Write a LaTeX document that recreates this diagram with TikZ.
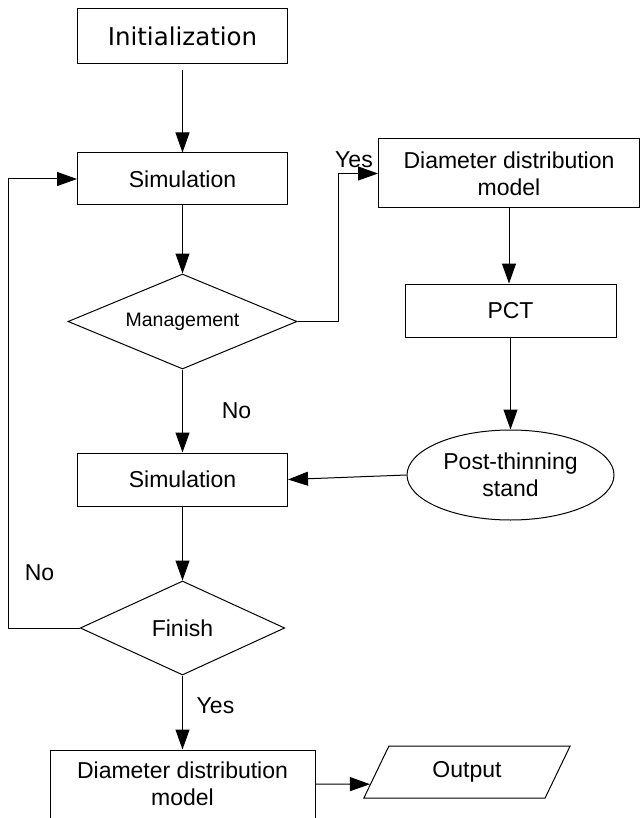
\documentclass[tikz,border=0pt]{standalone}
\usepackage{fontspec}
\setmainfont{Liberation Sans}
\newfontfamily\initfont{DejaVu Sans}
\usetikzlibrary{shapes.geometric,arrows.meta,calc}
\begin{document}
\begin{tikzpicture}[x=1pt,y=-1pt,
  every node/.style={font=\fontsize{23}{27}\selectfont, inner sep=0pt, line width=1pt},
  box/.style={draw, rectangle, align=center},
  dec/.style={draw, diamond, shape aspect=2.4},
  arr/.style={line width=1pt, -{Triangle[length=20pt,width=14pt]}},
  ln/.style={line width=1pt}]
\useasboundingbox (0,0) rectangle (640,818);
\node[box, minimum width=210pt, minimum height=55pt] (init) at (182.5,36.5) {\initfont\fontsize{24.5}{28}\selectfont Initialization};
\node[box, minimum width=210pt, minimum height=52pt] (sim1) at (182.5,179) {Simulation};
\node[dec, minimum width=229pt, minimum height=95pt, font=\fontsize{19.5}{22}\selectfont] (mgmt) at (182.5,321.5) {Management};
\node[box, minimum width=210pt, minimum height=53pt] (sim2) at (182.5,479.5) {Simulation};
\node[dec, minimum width=204.5pt, minimum height=94pt] (fin) at (182.5,628) {Finish};
\node[box, minimum width=265pt, minimum height=68pt] (dd2) at (182.5,784) {Diameter distribution\\model};
\node[draw, trapezium, trapezium left angle=62, trapezium right angle=118, trapezium stretches=true, minimum width=207.6pt, minimum height=52pt] (out) at (467,772) {Output};
\node[box, minimum width=261pt, minimum height=69pt] (ddr) at (509,173.5) {Diameter distribution\\model};
\node[box, minimum width=211pt, minimum height=53pt] (pct) at (510.5,310.5) {PCT};
\node[draw, ellipse, minimum width=207pt, minimum height=90pt, align=center] (post) at (510.5,475) {Post-thinning\\stand};

\node (yes1) at (354,160) {Yes};
\node (no1) at (236.5,411) {No};
\node (no2) at (39.5,573) {No};
\node (yes2) at (215.5,706) {Yes};

\draw[arr] ($(init.south)+(0,6)$) -- (sim1.north);
\draw[arr] (sim1.south) -- (mgmt.north);
\draw[arr] (mgmt.east) -- ++(41,0) |- (ddr.west);
\draw[arr] (ddr.south) -- (ddr.south |- pct.north);
\draw[arr] (pct.south) -- (pct.south |- post.north);
\draw[arr] (post.west) -- (sim2.east);
\draw[arr] (mgmt.south) -- (sim2.north);
\draw[arr] (sim2.south) -- (fin.north);
\draw[arr] (fin.west) -- ++(-71,0) |- (sim1.west);
\draw[arr] (fin.south) -- (dd2.north);
\draw[arr] (dd2.east) -- ($(out.bottom left corner)!0.27!(out.top left corner)$);
\end{tikzpicture}
\end{document}
